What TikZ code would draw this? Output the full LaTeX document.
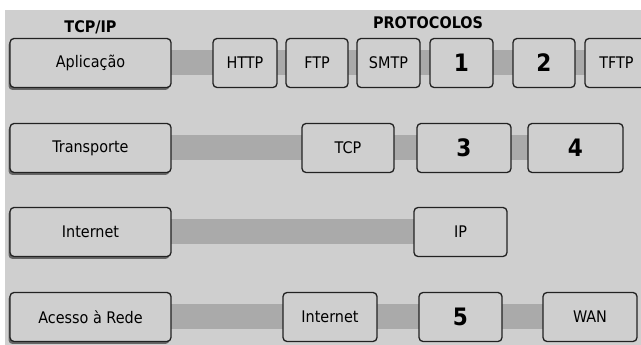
\documentclass[tikz,border=0pt]{standalone}
\usepackage{fontspec}
\setmainfont{DejaVu Sans Condensed}
\usetikzlibrary{positioning, shadows, backgrounds}

\definecolor{panelgray}{HTML}{CFCFCF}
\definecolor{bargray}{HTML}{AAAAAA}
\definecolor{edgegray}{HTML}{222222}

\tikzset{
  cellbox/.style={draw=edgegray, line width=1.3pt, rounded corners=4pt, fill=panelgray,
    minimum height=49pt, inner sep=0pt, outer sep=0pt, font=\fontsize{16}{19}\selectfont},
  layerbox/.style={cellbox, minimum width=161pt,
    drop shadow={shadow xshift=-1.5pt, shadow yshift=-2.5pt, fill=black!70, opacity=0.8}},
  protobox/.style={cellbox, minimum width=#1},
  protobox/.default=63pt,
  numbox/.style={protobox=#1, font=\fontsize{24}{28}\selectfont\bfseries},
  numbox/.default=63pt,
  headtext/.style={font=\fontsize{16}{19}\selectfont\bfseries},
  linkbar/.style={draw=bargray, line width=25pt}
}

\begin{document}
\begin{tikzpicture}[x=1pt, y=1pt]
\useasboundingbox (0,0) rectangle (641,345);
\clip (0,0) rectangle (641,345);

% Camadas TCP/IP
\node[layerbox, anchor=west] (aplic) at (10,282) {Aplicação};
\node[layerbox, below=36pt of aplic] (transp) {Transporte};
\node[layerbox, below=35pt of transp] (inet) {Internet};
\node[layerbox, below=36pt of inet] (acesso) {Acesso à Rede};

% Cabecalhos
\node[headtext, above=1pt of aplic] (hdtcp) {TCP/IP};
\node[headtext] (hdproto) at (428,322) {PROTOCOLOS};

% Aplicacao
\node[protobox=64pt, right=42pt of aplic] (http) {HTTP};
\node[protobox=62pt, right=9pt of http] (ftp) {FTP};
\node[protobox, right=9pt of ftp] (smtp) {SMTP};
\node[numbox, right=10pt of smtp] (n1) {1};
\node[numbox=62pt, right=20pt of n1] (n2) {2};
\node[protobox, right=10pt of n2] (tftp) {TFTP};

% Transporte
\node[protobox=92pt, right=131pt of transp] (tcp) {TCP};
\node[numbox=94pt, right=23pt of tcp] (n3) {3};
\node[numbox=95pt, right=17pt of n3] (n4) {4};

% Internet
\node[protobox=93pt, right=243pt of inet] (ip) {IP};

% Acesso a Rede
\node[protobox=94pt, right=112pt of acesso] (lan) {Internet};
\node[numbox=83pt, right=42pt of lan] (n5) {5};
\node[protobox=94pt, right=41pt of n5] (wan) {WAN};

% Fundo e barras
\begin{scope}[on background layer]
\fill[panelgray] (5,0) rectangle (641,335);
\draw[linkbar] (aplic) -- (tftp);
\draw[linkbar] (transp) -- (n4);
\draw[linkbar] (inet) -- (ip);
\draw[linkbar] (acesso) -- (wan);
\end{scope}
\end{tikzpicture}
\end{document}
